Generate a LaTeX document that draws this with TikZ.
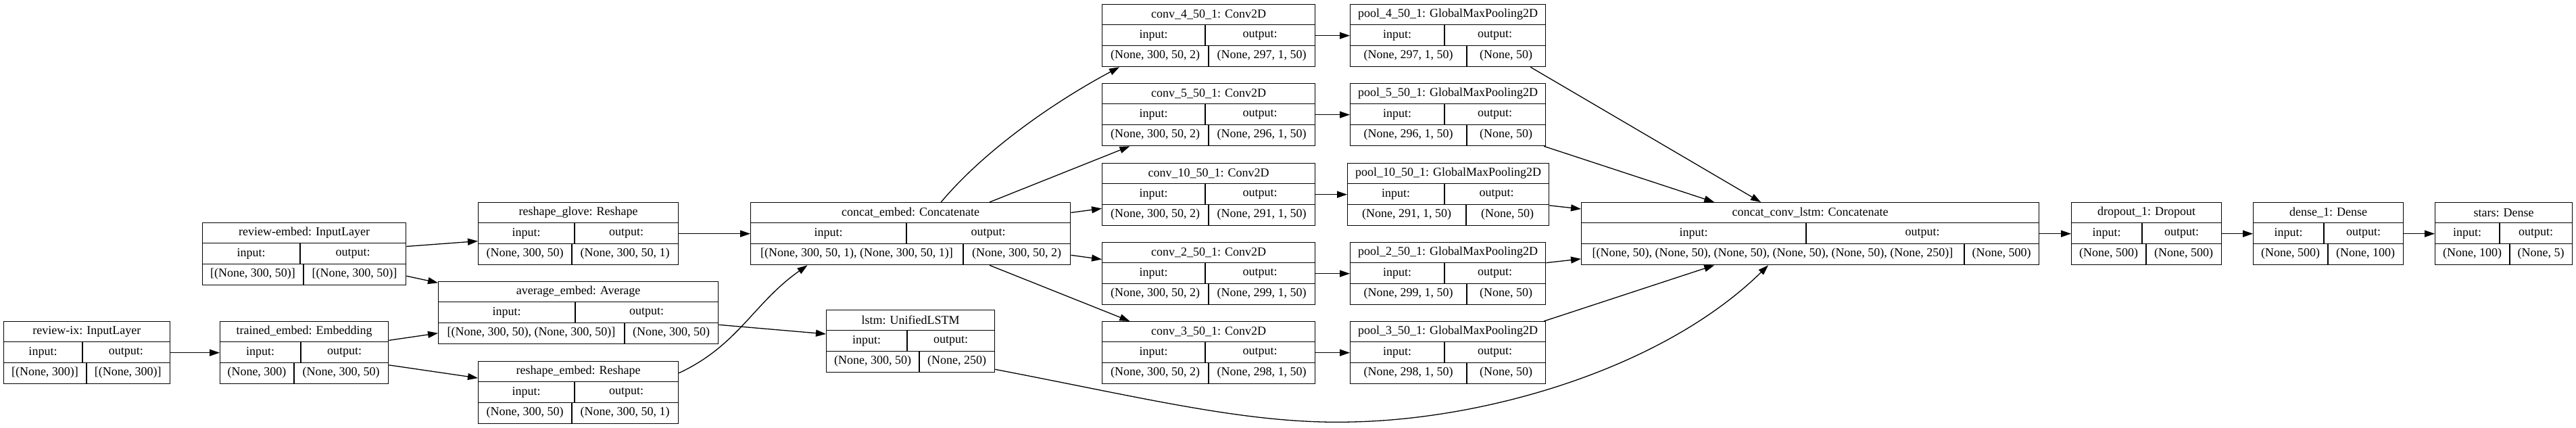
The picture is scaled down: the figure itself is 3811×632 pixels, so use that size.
\documentclass[tikz,border=0pt]{standalone}
\usepackage{fontspec}
\setmainfont{Liberation Serif}
\usetikzlibrary{arrows.meta}

\tikzset{
  box/.style={draw, line width=1.3pt, minimum height=92pt, inner sep=0pt, anchor=north west},
  cell/.style={line width=1.3pt},
  txt/.style={inner sep=0pt, font=\fontsize{18}{20}\selectfont},
  edge/.style={line width=1.3pt, -{Triangle[length=15pt,width=10pt]}},
}

% #1 name, #2 x, #3 y, #4 width, #5 io split, #6 shape split, #7 title, #8 input, #9 output
\newcommand{\kerasbox}[9]{%
  \node[box, minimum width={(#4)*1pt}] (#1) at (#2,#3) {};
  \draw[cell] ([yshift=-30.7pt]#1.north west) -- ([yshift=-30.7pt]#1.north east);
  \draw[cell] ([yshift=-61.3pt]#1.north west) -- ([yshift=-61.3pt]#1.north east);
  \draw[cell] ([xshift={(#5)*1pt},yshift=-30.7pt]#1.north west) -- ([xshift={(#5)*1pt},yshift=-61.3pt]#1.north west);
  \draw[cell] ([xshift={(#6)*1pt},yshift=-61.3pt]#1.north west) -- ([xshift={(#6)*1pt}]#1.south west);
  \node[txt] (#1-t) at ([yshift=-15.4pt]#1.north) {#7};
  \node[txt] (#1-i) at ([xshift={(#5)*0.5pt},yshift=-46pt]#1.north west) {input:};
  \node[txt] (#1-o) at ([xshift={(#4+#5)*0.5pt},yshift=-46pt]#1.north west) {output:};
  \node[txt] (#1-vi) at ([xshift={(#6)*0.5pt},yshift=-76.6pt]#1.north west) {#8};
  \node[txt] (#1-vo) at ([xshift={(#4+#6)*0.5pt},yshift=-76.6pt]#1.north west) {#9};
}

\begin{document}
\begin{tikzpicture}[x=1pt,y=-1pt]
\useasboundingbox (0,0) rectangle (3811,632);

% inputs and embeddings
\kerasbox{rix}{5}{475}{245.5}{117}{123}{review-ix: InputLayer}{[(None, 300)]}{[(None, 300)]}
\kerasbox{temb}{325}{475}{249}{120}{110}{trained\_embed: Embedding}{(None, 300)}{(None, 300, 50)}
\kerasbox{remb}{299}{329}{301}{145}{150}{review-embed: InputLayer}{[(None, 300, 50)]}{[(None, 300, 50)]}
\kerasbox{rglove}{707}{299}{296}{143}{139}{reshape\_glove: Reshape}{(None, 300, 50)}{(None, 300, 50, 1)}
\kerasbox{avg}{648}{416}{414}{203}{276}{average\_embed: Average}{[(None, 300, 50), (None, 300, 50)]}{(None, 300, 50)}
\kerasbox{rembd}{707}{534}{296}{143}{139}{reshape\_embed: Reshape}{(None, 300, 50)}{(None, 300, 50, 1)}
\kerasbox{cemb}{1110}{299}{473}{231}{315}{concat\_embed: Concatenate}{[(None, 300, 50, 1), (None, 300, 50, 1)]}{(None, 300, 50, 2)}
\kerasbox{lstm}{1222}{458}{249}{120}{138}{lstm: UnifiedLSTM}{(None, 300, 50)}{(None, 250)}

% conv and pooling columns
\foreach \k/\y/\n in {4/6/297,5/123/296,10/241/291,2/358/299,3/475/298}{
  \kerasbox{conv\k}{1630}{\y}{315}{153}{158}{conv\_\k\_50\_1: Conv2D}{(None, 300, 50, 2)}{(None, \n, 1, 50)}
}
\foreach \k/\y/\n in {4/6/297,5/123/296,2/358/299,3/475/298}{
  \kerasbox{pool\k}{1997}{\y}{289}{140}{173}{pool\_\k\_50\_1: GlobalMaxPooling2D}{(None, \n, 1, 50)}{(None, 50)}
}
\kerasbox{pool10}{1993}{241}{298}{144}{176}{pool\_10\_50\_1: GlobalMaxPooling2D}{(None, 291, 1, 50)}{(None, 50)}

% head
\kerasbox{cconv}{2339}{299}{677}{333}{567}{concat\_conv\_lstm: Concatenate}{[(None, 50), (None, 50), (None, 50), (None, 50), (None, 50), (None, 250)]}{(None, 500)}
\kerasbox{drop}{3064}{299}{222}{105}{111}{dropout\_1: Dropout}{(None, 500)}{(None, 500)}
\kerasbox{dense}{3333}{299}{222}{105}{111}{dense\_1: Dense}{(None, 500)}{(None, 100)}
\kerasbox{stars}{3602}{299}{203}{96}{111}{stars: Dense}{(None, 100)}{(None, 5)}

% connections
\draw[edge] (rix) -- (temb);
\draw[edge] (remb) -- (rglove);
\draw[edge] (remb) -- (avg);
\draw[edge] (temb) -- (avg);
\draw[edge] (temb) -- (rembd);
\draw[edge] (rglove) -- (cemb);
\draw[edge] (avg) -- (lstm);
\draw[edge] (rembd.11) to[out=25,in=215] (cemb.197);
\draw[edge] ([xshift=45pt]cemb.north) to[out=50,in=208,looseness=0.8] ([xshift=26pt]conv4.south west);
\foreach \k in {5,10,2,3} \draw[edge] (cemb) -- (conv\k);
\foreach \k in {4,5,10,2,3} \draw[edge] (conv\k) -- (pool\k);
\draw[edge] ([xshift=-23pt]pool4.south east) -- ([xshift=266pt]cconv.north west);
\foreach \k in {5,10,2,3} \draw[edge] (pool\k) -- (cconv);
\coordinate (dip) at (2000,624);
\draw[edge] ([yshift=5pt]lstm.south east) .. controls (1700,590) and (1850,628) .. (dip)
  .. controls (2200,620) and (2460,545) .. ([xshift=277pt]cconv.south west);
\draw[edge] (cconv) -- (drop);
\draw[edge] (drop) -- (dense);
\draw[edge] (dense) -- (stars);

\end{tikzpicture}
\end{document}
